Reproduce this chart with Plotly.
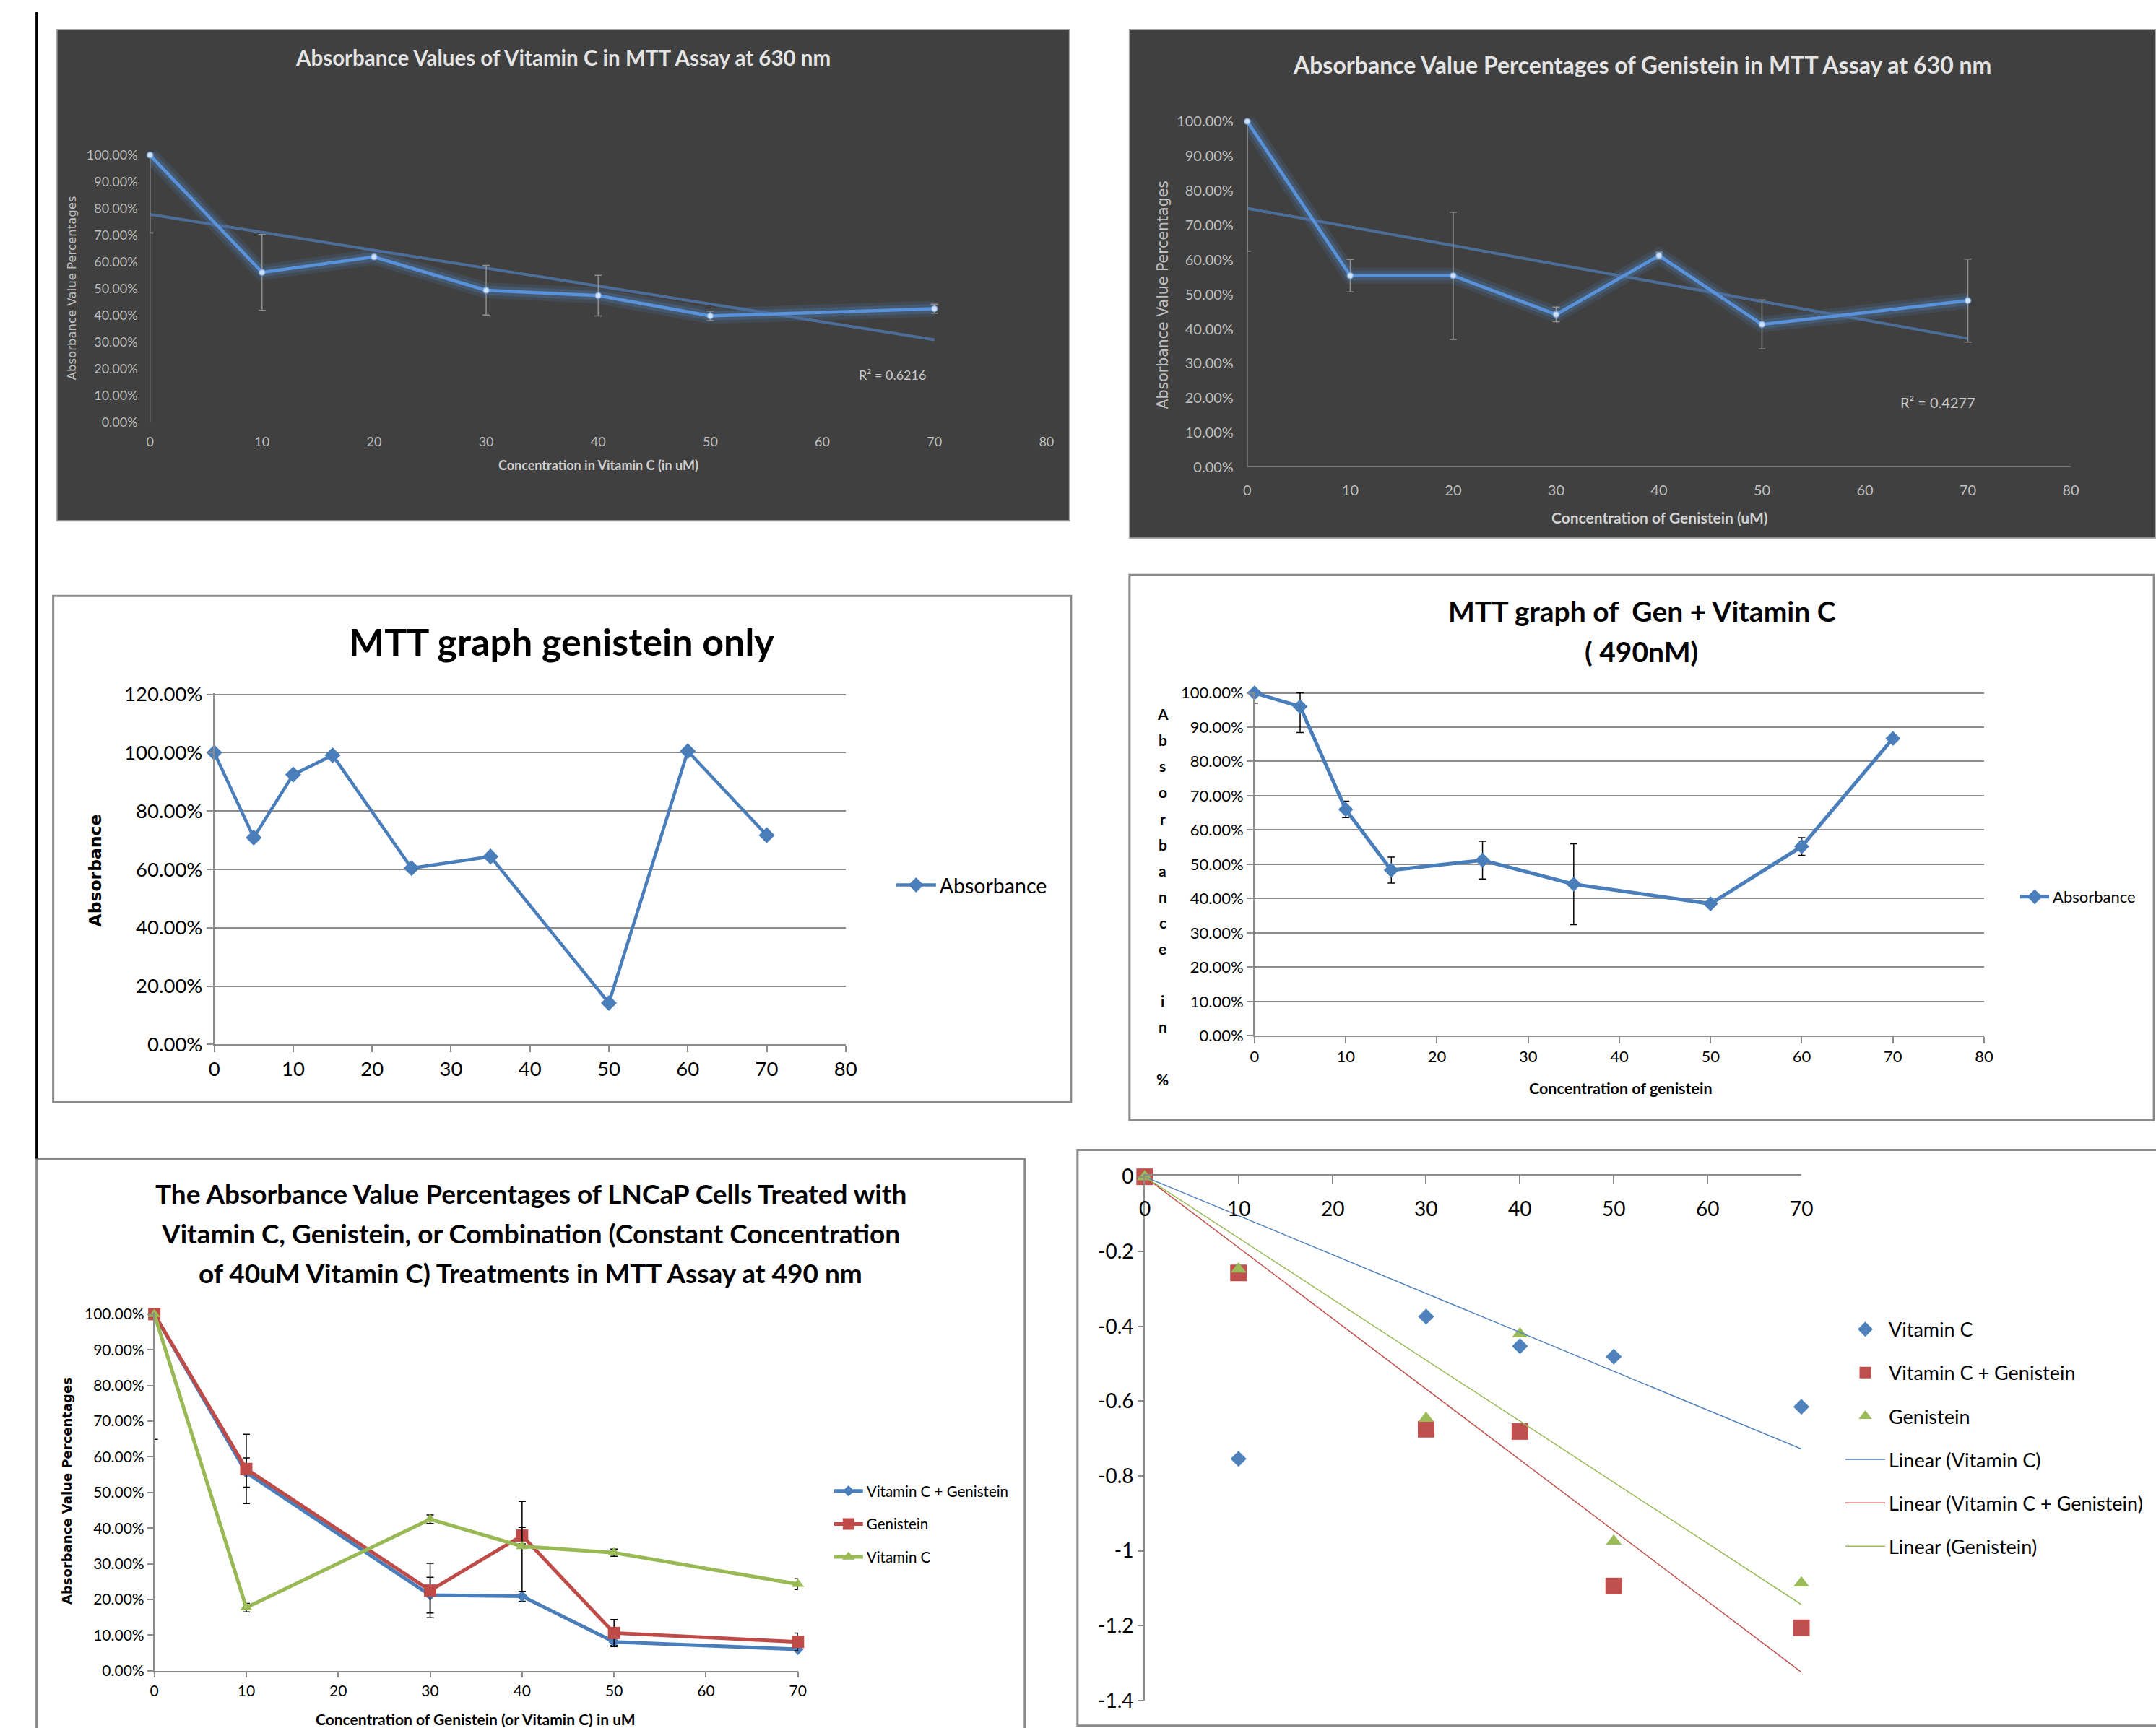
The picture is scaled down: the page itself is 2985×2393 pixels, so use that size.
import plotly.graph_objects as go
import numpy as np

W, H = 2985, 2393

# ------------------------------------------------------------------ data
# Panel 1 : Vitamin C, MTT 630 nm
vc630_conc = [0, 10, 20, 30, 40, 50, 70]
vc630_abs = [1.000, 0.561, 0.619, 0.494, 0.474, 0.398, 0.425]
vc630_err_plus = [0.0, 0.142, 0.0, 0.093, 0.076, 0.018, 0.017]
vc630_err_minus = [0.291, 0.142, 0.0, 0.093, 0.076, 0.018, 0.017]
vc630_r2_label = "R² = 0.6216"

# Panel 2 : Genistein, MTT 630 nm
gen630_conc = [0, 10, 20, 30, 40, 50, 70]
gen630_abs = [1.000, 0.554, 0.554, 0.442, 0.612, 0.413, 0.482]
gen630_err_plus = [0.0, 0.047, 0.184, 0.021, 0.010, 0.071, 0.120]
gen630_err_minus = [0.375, 0.047, 0.184, 0.021, 0.010, 0.071, 0.120]
gen630_r2_label = "R² = 0.4277"

# Panel 3 : genistein only
genonly_conc = [0, 5, 10, 15, 25, 35, 50, 60, 70]
genonly_abs = [1.000, 0.709, 0.925, 0.991, 0.604, 0.644, 0.142, 1.005, 0.717]

# Panel 4 : Gen + Vitamin C (490 nm)
genvc_conc = [0, 5, 10, 15, 25, 35, 50, 60, 70]
genvc_abs = [1.000, 0.960, 0.660, 0.483, 0.512, 0.442, 0.385, 0.552, 0.867]
genvc_err_plus = [0.0, 0.040, 0.024, 0.038, 0.055, 0.118, 0.0, 0.026, 0.0]
genvc_err_minus = [0.030, 0.076, 0.024, 0.038, 0.055, 0.118, 0.0, 0.026, 0.0]
genvc_ytitle = "Absorbance in %"

# Panel 5 : combination, 490 nm
combo_conc = [0, 10, 30, 40, 50, 70]
combo_vcgen = [1.000, 0.556, 0.212, 0.209, 0.081, 0.060]
combo_vcgen_err_plus = [0.0, 0.041, 0.050, 0.014, 0.010, 0.005]
combo_vcgen_err_minus = [0.351, 0.041, 0.050, 0.014, 0.010, 0.005]
combo_gen = [1.000, 0.566, 0.225, 0.379, 0.106, 0.081]
combo_gen_err = [0.0, 0.097, 0.076, 0.023, 0.038, 0.025]
combo_vc = [1.000, 0.177, 0.425, 0.349, 0.331, 0.243]
combo_vc_err = [0.0, 0.012, 0.012, 0.126, 0.010, 0.015]
combo_title_lines = [
    "The Absorbance Value Percentages of LNCaP Cells Treated with",
    "Vitamin C, Genistein, or Combination (Constant Concentration",
    "of 40uM Vitamin C) Treatments in MTT Assay at 490 nm",
]

# Panel 6 : comparison with zero-intercept linear trends
log_conc = [0, 10, 30, 40, 50, 70]
log_vc = [0, -0.754, -0.374, -0.453, -0.481, -0.615]
log_vcgen = [0, -0.257, -0.675, -0.681, -1.094, -1.206]
log_gen = [0, -0.247, -0.646, -0.420, -0.974, -1.086]
log_yticks = [0, -0.2, -0.4, -0.6, -0.8, -1.0, -1.2, -1.4]
log_yticktext = ["0", "-0.2", "-0.4", "-0.6", "-0.8", "-1", "-1.2", "-1.4"]

pct_ticks_10 = [i / 10 for i in range(11)]
pct_ticks_20 = [i / 5 for i in range(7)]
conc_ticks_80 = list(range(0, 81, 10))
conc_ticks_70 = list(range(0, 71, 10))

# ------------------------------------------------------------------ helpers
LATO = "Lato, 'Open Sans', sans-serif"
DEJAVU = "'DejaVu Sans', Verdana, sans-serif"
BLUE, RED, GREEN = "#4A7EBB", "#BE4B48", "#98B954"
BLUE_L, RED_L, GREEN_L = "#4F81BD", "#C0504D", "#9BBB59"
GRID = "#8C8C8C"

# the photographed page is slightly inset / scaled; map target pixel
# positions into figure pixel positions
AX, SX = 8.4, 0.9918
AY, SY = 19.0, 0.9846


def dx(r):
    return (r - AX) / SX


def dy(r):
    return (r - AY) / SY


def px(x):
    return dx(x) / W


def py(y):
    return 1 - dy(y) / H


def dom_x(v0, p0, v1, p1, lo, hi):
    s = (p1 - p0) / (v1 - v0)
    return [px(p0 + (lo - v0) * s), px(p0 + (hi - v0) * s)]


def dom_y(v0, p0, v1, p1, lo, hi):
    s = (p1 - p0) / (v1 - v0)
    return [py(p0 + (lo - v0) * s), py(p0 + (hi - v0) * s)]


annotations = []


def ann(text, x, y, size, color="black", bold=False, family=LATO,
        xanchor="center", yanchor="middle", angle=0, xref="paper"):
    annotations.append(dict(
        text=text, x=(x if xref != "paper" else px(x)), y=py(y),
        xref=xref, yref="paper",
        showarrow=False, xanchor=xanchor, yanchor=yanchor, textangle=angle,
        font=dict(size=size, color=color, family=family,
                  weight="bold" if bold else "normal")))


def base_axis(domain, rng, anchor, **kw):
    d = dict(domain=domain, range=rng, anchor=anchor, showgrid=False,
             zeroline=False, showline=False, ticks="", fixedrange=True)
    d.update(kw)
    return d


fig = go.Figure()
shapes = []

# ------------------------------------------------------------------ panel frames
shapes.append(dict(type="line", xref="paper", yref="paper", x0=px(51), x1=px(51),
                   y0=1.0, y1=py(1604), line=dict(color="black", width=3)))
for (x0, y0, x1, y1, fill, lc, lw) in [
    (79, 43, 1481, 722, "#404040", "#A6A6A6", 2),
    (1564, 43, 2984, 746, "#404040", "#A6A6A6", 2),
    (74, 826, 1483, 1526, "white", "#8A8A8A", 3),
    (1564, 797, 2982, 1551, "white", "#8A8A8A", 3),
    (51, 1604, 1419, 2440, "white", "#8A8A8A", 3),
    (1492, 1592, 3030, 2388, "white", "#8A8A8A", 3),
]:
    shapes.append(dict(type="rect", xref="paper", yref="paper", layer="below",
                       x0=px(x0), x1=px(x1), y0=py(y0), y1=py(y1),
                       fillcolor=fill, line=dict(color=lc, width=lw)))


# ------------------------------------------------------------------ dark panels
def dark_panel(n, conc, vals, ep, em):
    xa, ya = ("x", "y") if n == 1 else (f"x{n}", f"y{n}")
    glow = "rgba(79,129,189,%s)"
    for w, a in [(22, "0.16"), (13, "0.28")]:
        fig.add_trace(go.Scatter(x=conc, y=vals, mode="lines", xaxis=xa, yaxis=ya,
                                 line=dict(color=glow % a, width=w),
                                 showlegend=False, hoverinfo="skip"))
    fit = np.polyfit(conc, vals, 1)
    tx = [min(conc), max(conc)]
    fig.add_trace(go.Scatter(x=tx, y=list(np.polyval(fit, tx)), mode="lines",
                             xaxis=xa, yaxis=ya, showlegend=False,
                             line=dict(color="rgba(78,112,158,0.95)", width=4)))
    fig.add_trace(go.Scatter(
        x=conc, y=vals, mode="lines+markers", xaxis=xa, yaxis=ya, showlegend=False,
        cliponaxis=False,
        line=dict(color="#5A92DA", width=4.5),
        marker=dict(symbol="circle", size=8, color="#D3E2F6",
                    line=dict(color="rgba(120,170,230,0.6)", width=2)),
        error_y=dict(type="data", symmetric=False, array=ep, arrayminus=em,
                     color="#8E8E8E", thickness=1.5, width=5)))


dark_panel(1, vc630_conc, vc630_abs, vc630_err_plus, vc630_err_minus)
dark_panel(2, gen630_conc, gen630_abs, gen630_err_plus, gen630_err_minus)

layout_axes = {}
layout_axes["xaxis"] = base_axis(dom_x(0, 208, 80, 1449, 0, 80), [0, 80], "y",
                                 tickvals=conc_ticks_80,
                                 tickfont=dict(size=18, color="#BFBFBF", family=LATO),
                                 ticklabelstandoff=14)
layout_axes["yaxis"] = base_axis(dom_y(0, 585.7, 1, 216.5, 0, 1.03), [0, 1.03], "x",
                                 tickvals=pct_ticks_10, tickformat=".2%",
                                 tickfont=dict(size=18, color="#BFBFBF", family=LATO),
                                 ticklabelstandoff=16)
layout_axes["xaxis2"] = base_axis(dom_x(0, 1727, 80, 2867, 0, 80), [0, 80], "y2",
                                  tickvals=conc_ticks_80,
                                  tickfont=dict(size=20, color="#BFBFBF", family=LATO),
                                  ticklabelstandoff=18)
layout_axes["yaxis2"] = base_axis(dom_y(0, 648, 1, 170, 0, 1.03), [0, 1.03], "x2",
                                  tickvals=pct_ticks_10, tickformat=".2%",
                                  tickfont=dict(size=20, color="#BFBFBF", family=LATO),
                                  ticklabelstandoff=18)
for xr, yr, pts in [("x", "y", [(0, 0, 0, 1)]),
                    ("x2", "y2", [(0, 0, 0, 1), (0, 0, 80, 0)])]:
    for (a, b, c, d) in pts:
        shapes.append(dict(type="line", xref=xr, yref=yr, x0=a, y0=b, x1=c, y1=d,
                           layer="below", line=dict(color="#858585", width=1.5)))

ann("Absorbance Values of Vitamin C in MTT Assay at 630 nm", 780, 81, 29.5, "#E4E4E4", True)
ann("Concentration in Vitamin C (in uM)", 829, 645, 18, "#D0D0D0", True)
ann("Absorbance Value Percentages", 100, 400, 16.5, "#BFBFBF", False, DEJAVU, angle=-90)
ann(vc630_r2_label, 1236, 520, 18, "#C8C8C8")

ann("Absorbance Value Percentages of Genistein in MTT Assay at 630 nm", 2274, 91, 32, "#E4E4E4", True)
ann("Concentration of Genistein (uM)", 2298, 717, 21, "#D0D0D0", True)
ann("Absorbance Value Percentages", 1610, 410, 20.5, "#BFBFBF", False, DEJAVU, angle=-90)
ann(gen630_r2_label, 2683, 558, 20, "#C8C8C8")

# ------------------------------------------------------------------ panel 3
fig.add_trace(go.Scatter(
    x=genonly_conc, y=genonly_abs, mode="lines+markers", name="Absorbance",
    xaxis="x3", yaxis="y3", legend="legend", cliponaxis=False,
    line=dict(color=BLUE, width=4.5),
    marker=dict(symbol="diamond", size=17, color=BLUE)))
layout_axes["xaxis3"] = base_axis(dom_x(0, 297, 80, 1171, 0, 80), [0, 80], "y3",
                                  tickvals=conc_ticks_80, showline=True, linecolor=GRID,
                                  linewidth=1.5, ticks="outside", ticklen=9,
                                  tickcolor=GRID, tickwidth=1.5,
                                  tickfont=dict(size=27.5, color="black", family=LATO))
layout_axes["yaxis3"] = base_axis(dom_y(0, 1446, 1.2, 962, 0, 1.203), [0, 1.203], "x3",
                                  tickvals=pct_ticks_20, tickformat=".2%",
                                  showgrid=True, gridcolor=GRID, gridwidth=1.5,
                                  showline=True, linecolor=GRID, linewidth=1.5,
                                  ticks="outside", ticklen=9, tickcolor=GRID, tickwidth=1.5,
                                  tickfont=dict(size=27.5, color="black", family=LATO))
ann("MTT graph genistein only", 778, 889, 52, "black", True)
ann("Absorbance", 132, 1206, 23.5, "black", True, DEJAVU, angle=-90)

# ------------------------------------------------------------------ panel 4
fig.add_trace(go.Scatter(
    x=genvc_conc, y=genvc_abs, mode="lines+markers", name="Absorbance",
    xaxis="x4", yaxis="y4", legend="legend2", cliponaxis=False,
    line=dict(color=BLUE, width=5),
    marker=dict(symbol="diamond", size=16, color=BLUE),
    error_y=dict(type="data", symmetric=False, array=genvc_err_plus,
                 arrayminus=genvc_err_minus, color="black", thickness=1.5, width=5)))
layout_axes["xaxis4"] = base_axis(dom_x(0, 1737, 80, 2747, 0, 80), [0, 80], "y4",
                                  tickvals=conc_ticks_80, showline=True, linecolor=GRID,
                                  linewidth=1.5, ticks="outside", ticklen=9,
                                  tickcolor=GRID, tickwidth=1.5,
                                  tickfont=dict(size=22, color="black", family=LATO))
layout_axes["yaxis4"] = base_axis(dom_y(0, 1434, 1, 960, 0, 1.004), [0, 1.004], "x4",
                                  tickvals=pct_ticks_10, tickformat=".2%",
                                  showgrid=True, gridcolor=GRID, gridwidth=1.5,
                                  showline=True, linecolor=GRID, linewidth=1.5,
                                  ticks="outside", ticklen=9, tickcolor=GRID, tickwidth=1.5,
                                  tickfont=dict(size=22, color="black", family=LATO))
ann("MTT graph of  Gen + Vitamin C", 2274, 847, 39, "black", True)
ann("( 490nM)", 2273, 903, 39, "black", True)
ann("Concentration of genistein", 2244, 1507, 21.5, "black", True)
for k, ch in enumerate(genvc_ytitle):
    if ch != " ":
        ann(ch, 1610, 989 + k * 36.05, 21, "black", True)

# ------------------------------------------------------------------ panel 5
for vals, ep, em, name, col, sym, size in [
    (combo_vcgen, combo_vcgen_err_plus, combo_vcgen_err_minus, "Vitamin C + Genistein", BLUE, "diamond", 12),
    (combo_gen, combo_gen_err, combo_gen_err, "Genistein", RED, "square", 17),
    (combo_vc, combo_vc_err, combo_vc_err, "Vitamin C", GREEN, "triangle-up", 15),
]:
    fig.add_trace(go.Scatter(
        x=combo_conc, y=vals, mode="lines+markers", name=name, legendgroup=name,
        xaxis="x5", yaxis="y5", legend="legend3", cliponaxis=False,
        line=dict(color=col, width=5),
        marker=dict(symbol=sym, size=size, color=col),
        error_y=dict(type="data", symmetric=False, array=ep, arrayminus=em,
                     color="black", thickness=1.5, width=5)))
layout_axes["xaxis5"] = base_axis(dom_x(0, 214, 70, 1105, 0, 70), [0, 70], "y5",
                                  tickvals=conc_ticks_70, showline=True, linecolor=GRID,
                                  linewidth=1.5, ticks="outside", ticklen=8,
                                  tickcolor=GRID, tickwidth=1.5,
                                  tickfont=dict(size=21, color="black", family=LATO))
layout_axes["yaxis5"] = base_axis(dom_y(0, 2312, 1, 1819, 0, 1.004), [0, 1.004], "x5",
                                  tickvals=pct_ticks_10, tickformat=".2%",
                                  showline=True, linecolor=GRID, linewidth=1.5,
                                  ticks="outside", ticklen=8, tickcolor=GRID, tickwidth=1.5,
                                  tickfont=dict(size=21, color="black", family=LATO))
for line_text, yy in zip(combo_title_lines, [1652, 1707, 1762]):
    ann(line_text, 735, yy, 37, "black", True)
ann("Concentration of Genistein (or Vitamin C) in uM", 659, 2379, 21, "black", True)
ann("Absorbance Value Percentages", 93, 2063, 18, "black", True, DEJAVU, angle=-90)

# ------------------------------------------------------------------ panel 6
for vals, name, col, sym, size in [
    (log_vc, "Vitamin C", BLUE_L, "diamond", 17),
    (log_vcgen, "Vitamin C + Genistein", RED_L, "square", 23),
    (log_gen, "Genistein", GREEN_L, "triangle-up", 19),
]:
    fig.add_trace(go.Scatter(
        x=log_conc, y=vals, mode="markers", name=name, legendgroup=name,
        xaxis="x6", yaxis="y6", legend="legend4", cliponaxis=False,
        marker=dict(symbol=sym, size=size, color=col)))
for vals, name, col in [
    (log_vc, "Linear (Vitamin C)", BLUE_L),
    (log_vcgen, "Linear (Vitamin C + Genistein)", RED_L),
    (log_gen, "Linear (Genistein)", GREEN_L),
]:
    xs = np.array(log_conc, dtype=float)
    ys = np.array(vals, dtype=float)
    slope = float((xs * ys).sum() / (xs * xs).sum())   # linear trend, intercept = 0
    tx = [float(xs.min()), float(xs.max())]
    fig.add_trace(go.Scatter(
        x=tx, y=[slope * t for t in tx], mode="lines", name=name, legendgroup=name,
        xaxis="x6", yaxis="y6", legend="legend4",
        line=dict(color=col, width=1.5)))
layout_axes["xaxis6"] = base_axis(dom_x(0, 1585, 70, 2494, 0, 70), [0, 70], "y6",
                                  side="top", tickvals=conc_ticks_70, showline=True,
                                  linecolor=GRID, linewidth=1.5, ticks="inside",
                                  ticklen=12, tickcolor=GRID, tickwidth=1.5,
                                  showticklabels=False)
layout_axes["yaxis6"] = base_axis(dom_y(0, 1629, -1.4, 2353, -1.4, 0.003), [-1.4, 0.003], "x6",
                                  tickvals=log_yticks, ticktext=log_yticktext,
                                  showline=True, linecolor=GRID, linewidth=1.5,
                                  ticks="outside", ticklen=8, tickcolor=GRID, tickwidth=1.5,
                                  tickfont=dict(size=28, color="black", family=LATO))
# x tick labels sit below the top axis line (axis crosses at y = 0)
for t in conc_ticks_70:
    ann(str(t), t, 1672, 28, "black", xref="x6")

# ------------------------------------------------------------------ layout
fig.update_layout(
    width=W, height=H, margin=dict(l=0, r=0, t=0, b=0),
    paper_bgcolor="white", plot_bgcolor="rgba(0,0,0,0)",
    font=dict(family=LATO, color="black"),
    shapes=shapes, annotations=annotations,
    legend=dict(x=px(1236), y=py(1226), xanchor="left", yanchor="middle",
                bgcolor="rgba(0,0,0,0)", itemwidth=55,
                font=dict(size=28.5, family=LATO, color="black")),
    legend2=dict(x=px(2792), y=py(1242), xanchor="left", yanchor="middle",
                 bgcolor="rgba(0,0,0,0)", itemwidth=40,
                 font=dict(size=22, family=LATO, color="black")),
    legend3=dict(x=px(1150), y=py(2109), xanchor="left", yanchor="middle",
                 bgcolor="rgba(0,0,0,0)", itemwidth=40, tracegroupgap=16,
                 traceorder="grouped",
                 font=dict(size=20.5, family=LATO, color="black")),
    legend4=dict(x=px(2550), y=py(1990), xanchor="left", yanchor="middle",
                 bgcolor="rgba(0,0,0,0)", itemwidth=55, tracegroupgap=22,
                 traceorder="grouped",
                 font=dict(size=27, family=LATO, color="black")),
    **layout_axes,
)

# no body margin / scrollbars: graph sits at the page's top-left corner
page_fix = (
    "document.documentElement.style.margin='0';"
    "document.body.style.margin='0';"
    "document.documentElement.style.overflow='hidden';"
    "var gd=document.getElementById('{plot_id}');"
    "gd.style.position='fixed';gd.style.left='0px';gd.style.top='0px';"
)
fig.write_html("out.html", post_script=page_fix,
               config={"displayModeBar": False})
